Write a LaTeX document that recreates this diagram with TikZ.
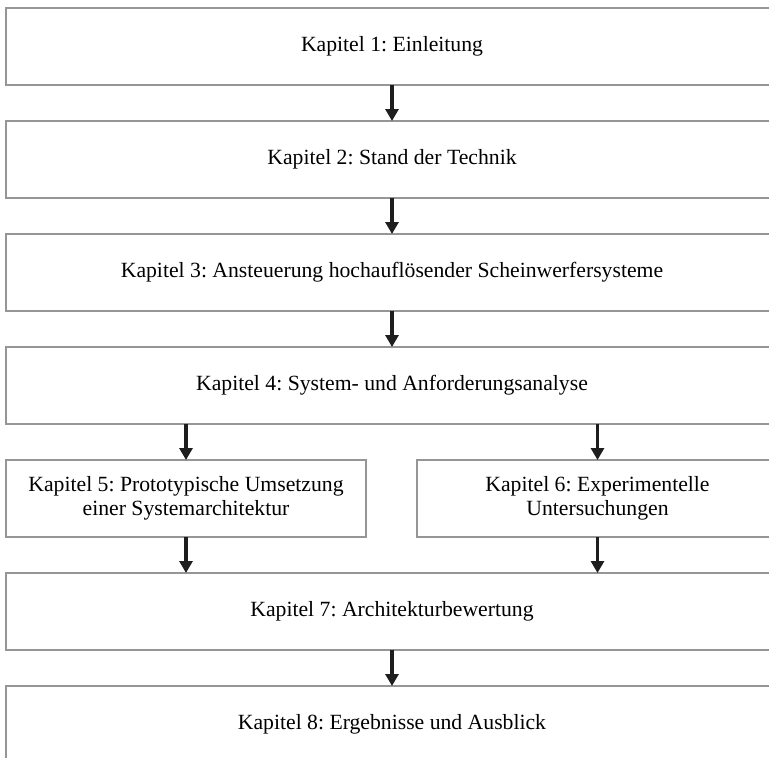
\documentclass[tikz,border=0pt]{standalone}
\usepackage{fontspec}
\setmainfont{Liberation Serif}
\usetikzlibrary{arrows.meta}
\definecolor{boxgray}{RGB}{150,150,150}
\definecolor{arrowblack}{RGB}{30,30,30}
\frenchspacing
\tikzset{
  chapbox/.style={draw=boxgray, line width=1.5pt, rectangle, outer sep=0pt, inner sep=0pt,
    minimum height=77pt, align=center, font=\fontsize{21.7}{24}\selectfont},
  wide/.style={minimum width=772pt},
  flowarrow/.style={draw=arrowblack, line width=3.2pt, -{Triangle[width=13pt,length=12pt]}}
}
\begin{document}
\begin{tikzpicture}[x=1pt,y=-1pt]
\useasboundingbox (0,0) rectangle (769,758);
\clip (0,0) rectangle (769,758);
\node[chapbox,wide] (k1) at (392,46.5) {Kapitel 1: Einleitung};
\node[chapbox,wide] (k2) at (392,159.5) {Kapitel 2: Stand der Technik};
\node[chapbox,wide] (k3) at (392,272.5) {Kapitel 3: Ansteuerung hochauflösender Scheinwerfersysteme};
\node[chapbox,wide] (k4) at (392,385.5) {Kapitel 4: System- und Anforderungsanalyse};
\node[chapbox,minimum width=360pt] (k5) at (186,498.5) {Kapitel 5: Prototypische Umsetzung\\einer Systemarchitektur};
\node[chapbox,minimum width=361pt] (k6) at (597.5,498.5) {Kapitel 6: Experimentelle\\Untersuchungen};
\node[chapbox,wide] (k7) at (392,611.5) {Kapitel 7: Architekturbewertung};
\node[chapbox,wide] (k8) at (392,724.5) {Kapitel 8: Ergebnisse und Ausblick};
\draw[flowarrow] (k1.south) -- (k2.north);
\draw[flowarrow] (k2.south) -- (k3.north);
\draw[flowarrow] (k3.south) -- (k4.north);
\draw[flowarrow] (k4.south -| k5.north) -- (k5.north);
\draw[flowarrow] (k4.south -| k6.north) -- (k6.north);
\draw[flowarrow] (k5.south) -- (k7.north -| k5.south);
\draw[flowarrow] (k6.south) -- (k7.north -| k6.south);
\draw[flowarrow] (k7.south) -- (k8.north);
\end{tikzpicture}
\end{document}
